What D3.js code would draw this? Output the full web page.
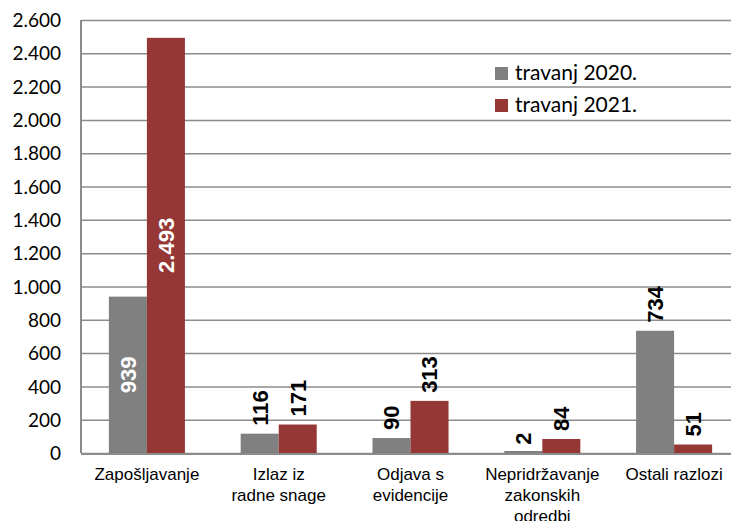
<!DOCTYPE html>
<html lang="hr">
<head>
<meta charset="utf-8">
<title>Razlozi brisanja</title>
<script src="https://d3js.org/d3.v7.min.js"></script>
<style>
  body { margin: 0; background: #fff; }
  svg { display: block; }
  .tick text { font-family: Lato, "Open Sans", sans-serif; font-size: 19px; fill: #000; }
  .cat { font-family: "Liberation Sans", Arial, sans-serif; font-size: 17px; fill: #000; }
  .lbl { font-family: "Liberation Sans", Arial, sans-serif; font-size: 22px; font-weight: bold; }
  .legend { font-family: Lato, "Open Sans", sans-serif; font-size: 21px; fill: #000; }
</style>
</head>
<body>
<div id="chart"></div>
<script>
// data
var categories = ["Zapošljavanje", "Izlaz iz\nradne snage", "Odjava s\nevidencije", "Nepridržavanje\nzakonskih\nodredbi", "Ostali razlozi"];
var seriesNames = ["travanj 2020.", "travanj 2021."];
var values2020 = [939, 116, 90, 2, 734];
var values2021 = [2493, 171, 313, 84, 51];
var yTicks = [0, 200, 400, 600, 800, 1000, 1200, 1400, 1600, 1800, 2000, 2200, 2400, 2600];
var colors = ["#808080", "#953735"];

var W = 731, H = 521;
var margin = {top: 20, left: 81, right: -9, bottom: 68};
var width = W - margin.left - margin.right,
    height = H - margin.top - margin.bottom;

var hr = d3.formatLocale({decimal: ",", thousands: ".", grouping: [3], currency: ["", ""]});
var fmt = hr.format(",d");

var svg = d3.select("#chart").append("svg")
  .attr("width", W)
  .attr("height", H);
var g = svg.append("g")
  .attr("transform", "translate(" + margin.left + "," + margin.top + ")");

var x0 = d3.scaleBand()
  .domain(d3.range(categories.length))
  .range([0, width])
  .paddingInner(0.423)
  .paddingOuter(0.2115);
var x1 = d3.scaleBand()
  .domain([0, 1])
  .range([0, x0.bandwidth()]);
var y = d3.scaleLinear()
  .domain([0, 2600])
  .range([height, 0]);

// gridlines + y axis labels
var yAxis = g.append("g")
  .call(d3.axisLeft(y).tickValues(yTicks).tickSize(-width).tickPadding(20).tickFormat(fmt));
yAxis.select(".domain").remove();
yAxis.selectAll(".tick line")
  .attr("stroke", "#8c8c8c")
  .attr("stroke-width", 1.5);
yAxis.selectAll(".tick text").attr("dy", "0.35em");

// axis lines
g.append("line")
  .attr("x1", 0).attr("x2", 0)
  .attr("y1", 0).attr("y2", height)
  .attr("stroke", "#8c8c8c").attr("stroke-width", 2);
g.append("line")
  .attr("x1", 0).attr("x2", width)
  .attr("y1", height + 1).attr("y2", height + 1)
  .attr("stroke", "#8c8c8c").attr("stroke-width", 2);

// bars
var rows = categories.map(function(c, i) {
  return [
    {s: 0, i: i, v: values2020[i]},
    {s: 1, i: i, v: values2021[i]}
  ];
});

var groups = g.selectAll(".grp")
  .data(rows)
  .enter().append("g")
  .attr("class", "grp")
  .attr("transform", function(d, i) { return "translate(" + x0(i) + ",0)"; });

groups.selectAll("rect")
  .data(function(d) { return d; })
  .enter().append("rect")
  .attr("x", function(d) { return x1(d.s); })
  .attr("width", x1.bandwidth())
  .attr("y", function(d) { return Math.min(y(d.v), height - 2); })
  .attr("height", function(d) { return Math.max(height - y(d.v), 2); })
  .attr("fill", function(d) { return colors[d.s]; });

// value labels (rotated); big ones inside in white, rest outside in black
groups.selectAll("text")
  .data(function(d) { return d; })
  .enter().append("text")
  .attr("class", "lbl")
  .attr("transform", function(d) {
    var cx = x1(d.s) + x1.bandwidth() / 2;
    var inside = d.v > 900;
    var cy = inside ? (y(d.v) + height) / 2 : y(d.v) - 8;
    return "translate(" + cx + "," + cy + ") rotate(-90)";
  })
  .attr("text-anchor", function(d) { return d.v > 900 ? "middle" : "start"; })
  .attr("dy", "0.36em")
  .attr("fill", function(d) { return d.v > 900 ? "#fff" : "#000"; })
  .text(function(d) { return fmt(d.v); });

// category labels
var cat = g.selectAll(".cat")
  .data(categories)
  .enter().append("text")
  .attr("class", "cat")
  .attr("text-anchor", "middle")
  .attr("x", function(d, i) { return x0(i) + x0.bandwidth() / 2; })
  .attr("y", height + 27);
cat.selectAll("tspan")
  .data(function(d) { return d.split("\n"); })
  .enter().append("tspan")
  .attr("x", function() { return d3.select(this.parentNode).attr("x"); })
  .attr("dy", function(d, i) { return i === 0 ? 0 : 21; })
  .text(function(d) { return d; });

// legend
var legend = svg.append("g").attr("transform", "translate(495,67)");
seriesNames.forEach(function(name, i) {
  legend.append("rect")
    .attr("x", 0).attr("y", i * 32)
    .attr("width", 13).attr("height", 13)
    .attr("fill", colors[i]);
  legend.append("text")
    .attr("class", "legend")
    .attr("x", 20).attr("y", i * 32 + 12.5)
    .text(name);
});
</script>
</body>
</html>
